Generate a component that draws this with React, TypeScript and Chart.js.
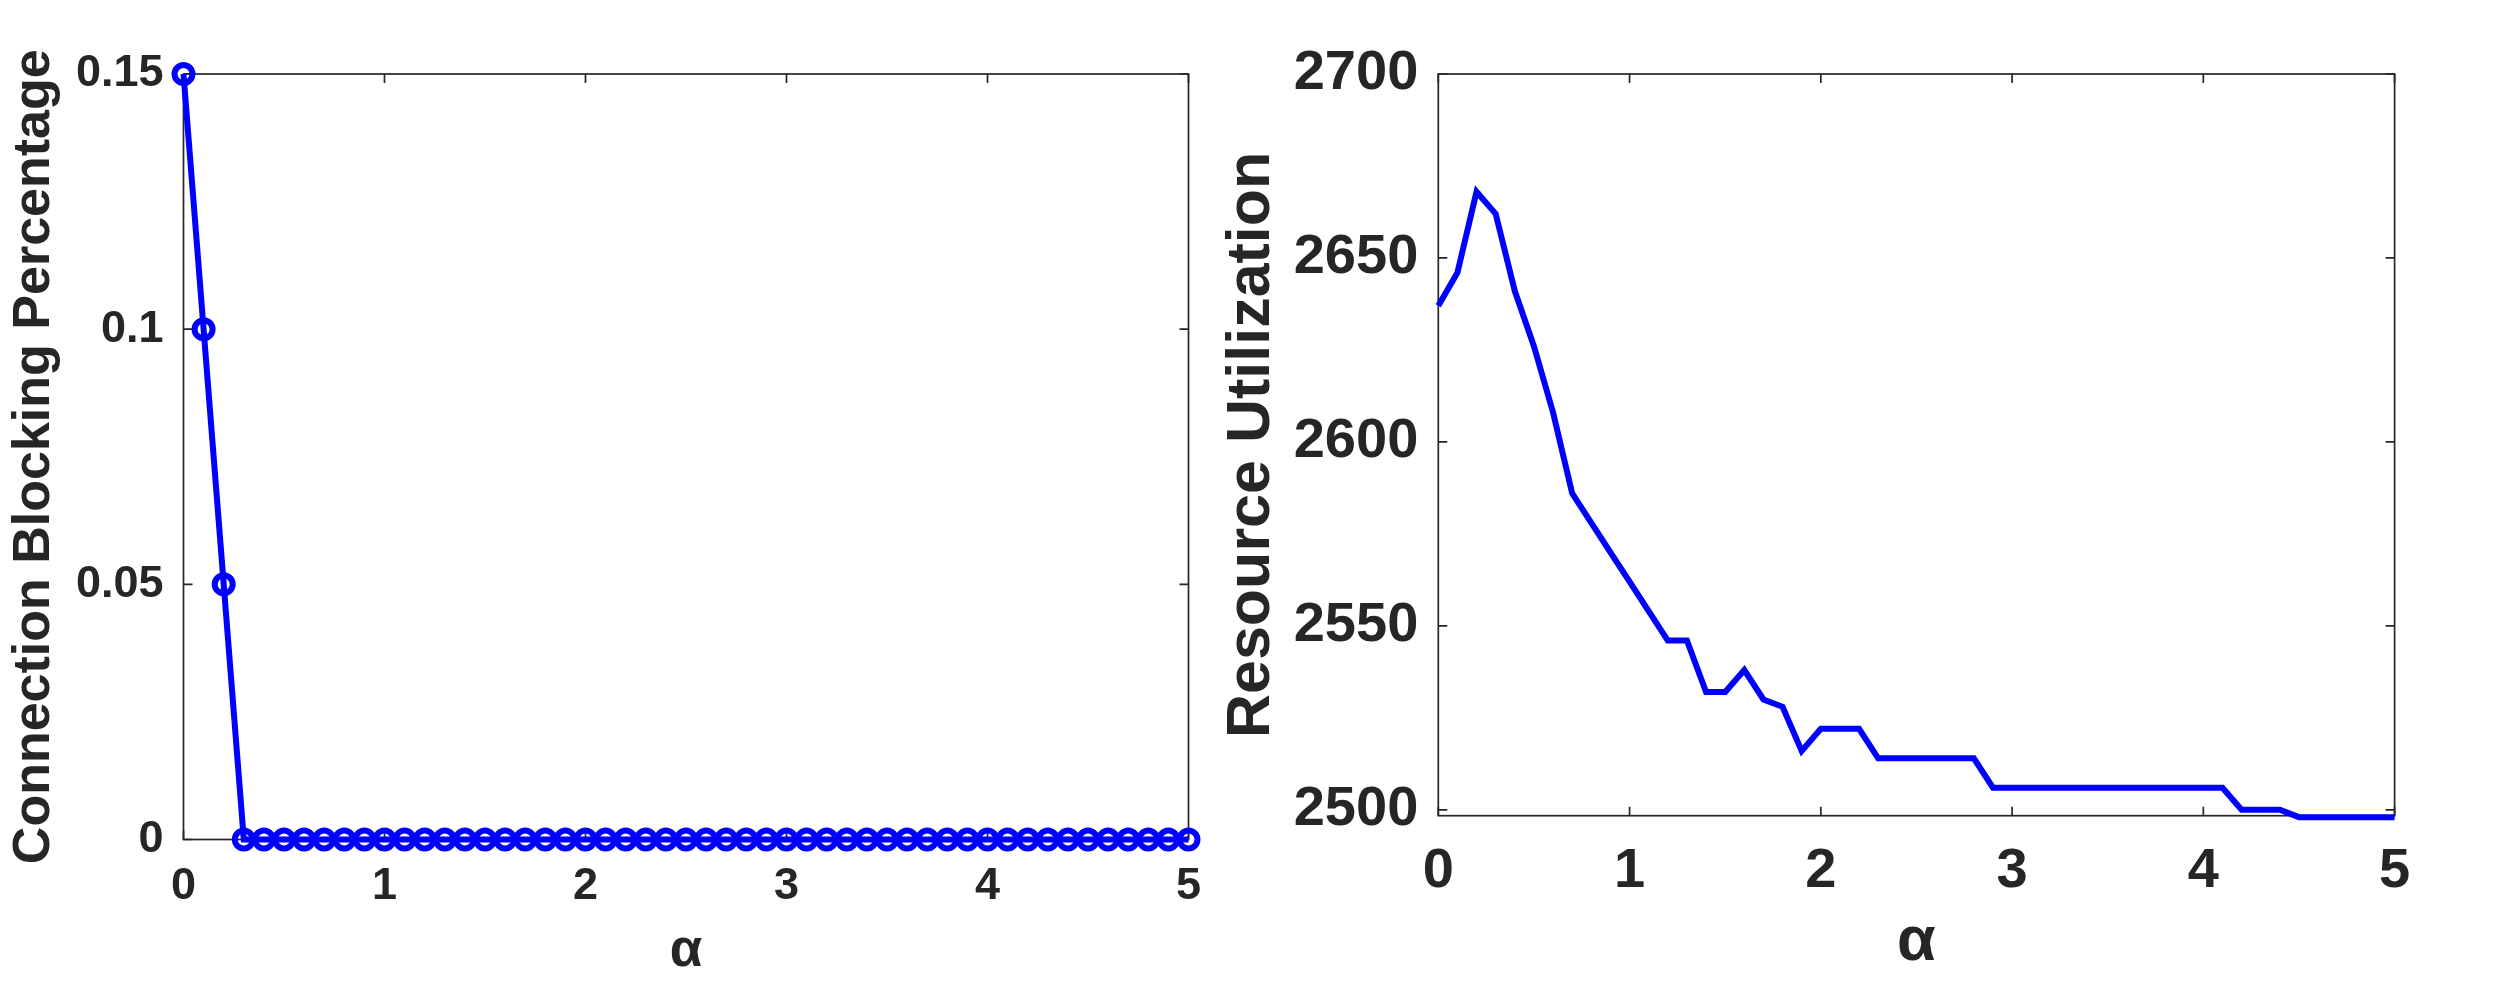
import React, { useEffect, useRef } from 'react';
import { Chart, registerables } from 'chart.js';

Chart.register(...registerables);

// ---------- data ----------
const ALPHA = [
  0, 0.1, 0.2, 0.3, 0.4, 0.5, 0.6, 0.7, 0.8, 0.9,
  1.0, 1.1, 1.2, 1.3, 1.4, 1.5, 1.6, 1.7, 1.8, 1.9,
  2.0, 2.1, 2.2, 2.3, 2.4, 2.5, 2.6, 2.7, 2.8, 2.9,
  3.0, 3.1, 3.2, 3.3, 3.4, 3.5, 3.6, 3.7, 3.8, 3.9,
  4.0, 4.1, 4.2, 4.3, 4.4, 4.5, 4.6, 4.7, 4.8, 4.9,
  5.0,
];

const BLOCKING = [
  0.15, 0.1, 0.05, 0, 0, 0, 0, 0, 0, 0,
  0, 0, 0, 0, 0, 0, 0, 0, 0, 0,
  0, 0, 0, 0, 0, 0, 0, 0, 0, 0,
  0, 0, 0, 0, 0, 0, 0, 0, 0, 0,
  0, 0, 0, 0, 0, 0, 0, 0, 0, 0,
  0,
];

const UTILIZATION = [
  2637, 2646, 2668, 2662, 2641, 2626, 2608, 2586, 2578, 2570,
  2562, 2554, 2546, 2546, 2532, 2532, 2538, 2530, 2528, 2516,
  2522, 2522, 2522, 2514, 2514, 2514, 2514, 2514, 2514, 2506,
  2506, 2506, 2506, 2506, 2506, 2506, 2506, 2506, 2506, 2506,
  2506, 2506, 2500, 2500, 2500, 2498, 2498, 2498, 2498, 2498,
  2498,
];

const X_TICKS = [0, 1, 2, 3, 4, 5];
const X_TICK_LABELS = ['0', '1', '2', '3', '4', '5'];
const BLOCKING_TICKS = [0, 0.05, 0.1, 0.15];
const BLOCKING_TICK_LABELS = ['0', '0.05', '0.1', '0.15'];
const UTIL_TICKS = [2500, 2550, 2600, 2650, 2700];
const UTIL_TICK_LABELS = ['2500', '2550', '2600', '2650', '2700'];

const X_TITLE = 'α';
const LEFT_Y_TITLE = 'Connection Blocking Percentage';
const RIGHT_Y_TITLE = 'Resource Utilization';

// ---------- style ----------
const W = 2520;
const H = 984;
const BLUE = '#0000FF';
const AXIS = '#262626';
const FONT = '"Liberation Sans", Arial, Helvetica, sans-serif';

const boxPlugin = {
  id: 'matlabBox',
  beforeDatasetsDraw(chart: any, _args: any, opts: any) {
    const { ctx, chartArea: a, scales } = chart;
    const len = opts.tickLength ?? 9;
    ctx.save();
    ctx.strokeStyle = AXIS;
    ctx.lineWidth = 1.7;
    ctx.strokeRect(a.left, a.top, a.right - a.left, a.bottom - a.top);
    ctx.beginPath();
    scales.x.ticks.forEach((t: any) => {
      const p = scales.x.getPixelForValue(t.value);
      ctx.moveTo(p, a.bottom);
      ctx.lineTo(p, a.bottom - len);
      ctx.moveTo(p, a.top);
      ctx.lineTo(p, a.top + len);
    });
    scales.y.ticks.forEach((t: any) => {
      const p = scales.y.getPixelForValue(t.value);
      ctx.moveTo(a.left, p);
      ctx.lineTo(a.left + len, p);
      ctx.moveTo(a.right, p);
      ctx.lineTo(a.right - len, p);
    });
    ctx.stroke();
    ctx.restore();
  },
};

type Cfg = {
  ys: number[];
  yMin: number;
  yMax: number;
  yTicks: number[];
  yTickLabels: string[];
  yTitle: string;
  pad: { left: number; right: number; top: number; bottom: number };
  yAxisWidth: number;
  xAxisHeight: number;
  tickFont: number;
  yTickPad: number;
  xTickPad: number;
  yTitleFont: number;
  yTitlePad: number;
  xTitleFont: number;
  xTitlePad: number;
  lineWidth: number;
  markers: boolean;
};

function makeChart(canvas: HTMLCanvasElement, c: Cfg) {
  return new Chart(canvas, {
    type: 'line',
    data: {
      datasets: [
        {
          data: ALPHA.map((a, i) => ({ x: a, y: c.ys[i] })),
          borderColor: BLUE,
          borderWidth: c.lineWidth,
          pointRadius: c.markers ? 9 : 0,
          pointBorderWidth: c.markers ? 6 : 0,
          pointBorderColor: BLUE,
          pointBackgroundColor: 'rgba(0,0,0,0)',
          pointStyle: 'circle',
          tension: 0,
          fill: false,
          clip: false as any,
        },
      ],
    },
    options: {
      responsive: false,
      animation: false,
      events: [],
      layout: { padding: c.pad },
      plugins: {
        legend: { display: false },
        tooltip: { enabled: false },
        matlabBox: { tickLength: 9 },
      } as any,
      scales: {
        x: {
          type: 'linear',
          min: 0,
          max: 5,
          grid: { display: false, drawTicks: false },
          border: { display: false },
          afterBuildTicks: (s: any) => {
            s.ticks = X_TICKS.map((v) => ({ value: v }));
          },
          afterFit: (s: any) => {
            s.height = c.xAxisHeight;
          },
          ticks: {
            autoSkip: false,
            maxRotation: 0,
            padding: c.xTickPad,
            color: AXIS,
            font: { family: FONT, size: c.tickFont, weight: 'bold', lineHeight: 1 },
            callback: (_v: any, i: number) => X_TICK_LABELS[i],
          },
          title: {
            display: true,
            text: X_TITLE,
            color: AXIS,
            padding: { top: 0, bottom: c.xTitlePad },
            font: { family: FONT, size: c.xTitleFont, weight: 'bold', lineHeight: 1 },
          },
        },
        y: {
          type: 'linear',
          min: c.yMin,
          max: c.yMax,
          grid: { display: false, drawTicks: false },
          border: { display: false },
          afterBuildTicks: (s: any) => {
            s.ticks = c.yTicks.map((v) => ({ value: v }));
          },
          afterFit: (s: any) => {
            s.width = c.yAxisWidth;
          },
          ticks: {
            autoSkip: false,
            padding: c.yTickPad,
            color: AXIS,
            font: { family: FONT, size: c.tickFont, weight: 'bold', lineHeight: 1 },
            callback: (_v: any, i: number) => c.yTickLabels[i],
          },
          title: {
            display: true,
            text: c.yTitle,
            color: AXIS,
            padding: { top: c.yTitlePad, bottom: 0 },
            font: { family: FONT, size: c.yTitleFont, weight: 'bold', lineHeight: 1 },
          },
        },
      },
    } as any,
    plugins: [boxPlugin as any],
  });
}

export default function App() {
  const leftRef = useRef<HTMLCanvasElement>(null);
  const rightRef = useRef<HTMLCanvasElement>(null);

  useEffect(() => {
    const left = makeChart(leftRef.current!, {
      ys: BLOCKING,
      yMin: 0,
      yMax: 0.15,
      yTicks: BLOCKING_TICKS,
      yTickLabels: BLOCKING_TICK_LABELS,
      yTitle: LEFT_Y_TITLE,
      pad: { left: 0, right: W - 1188.5, top: 74, bottom: 0 },
      yAxisWidth: 183.5,
      xAxisHeight: H - 839.5,
      tickFont: 45,
      yTickPad: 20,
      xTickPad: 25,
      yTitleFont: 52,
      yTitlePad: 9,
      xTitleFont: 53,
      xTitlePad: 6,
      lineWidth: 6,
      markers: true,
    });
    const right = makeChart(rightRef.current!, {
      ys: UTILIZATION,
      yMin: 2498.4,
      yMax: 2700,
      yTicks: UTIL_TICKS,
      yTickLabels: UTIL_TICK_LABELS,
      yTitle: RIGHT_Y_TITLE,
      pad: { left: 1215, right: W - 2394.6, top: 74, bottom: 0 },
      yAxisWidth: 1438.3 - 1215,
      xAxisHeight: H - 815.7,
      tickFont: 56,
      yTickPad: 20,
      xTickPad: 28,
      yTitleFont: 61,
      yTitlePad: 6.5,
      xTitleFont: 63,
      xTitlePad: 10,
      lineWidth: 6,
      markers: false,
    });
    return () => {
      left.destroy();
      right.destroy();
    };
  }, []);

  const cs: React.CSSProperties = { position: 'absolute', left: 0, top: 0, width: W, height: H };
  return (
    <div style={{ position: 'absolute', left: 0, top: 0, width: W, height: H, background: '#ffffff', overflow: 'hidden' }}>
      <canvas ref={leftRef} width={W} height={H} style={cs} />
      <canvas ref={rightRef} width={W} height={H} style={cs} />
    </div>
  );
}
